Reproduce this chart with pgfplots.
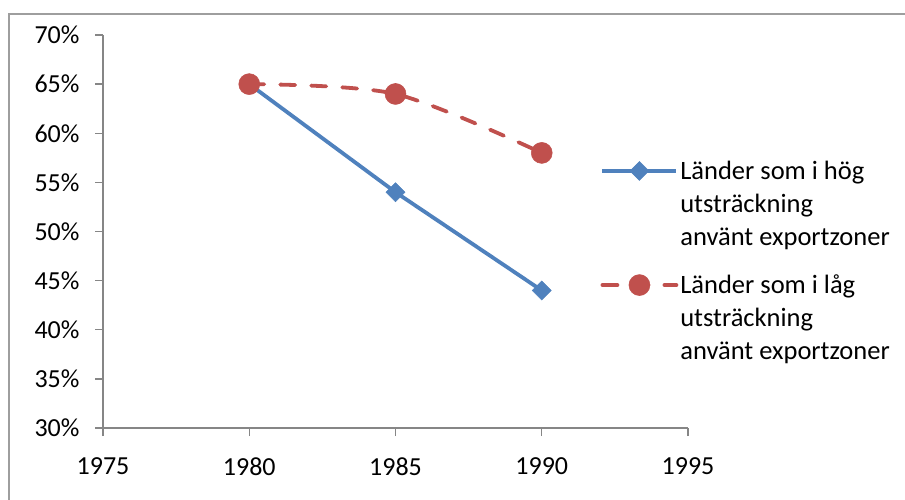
\documentclass[border=0pt]{standalone}
\usepackage{pgfplots}
\pgfplotsset{compat=1.18}
\usepackage{fontspec}
\setmainfont{Carlito}
\definecolor{sblue}{HTML}{4F81BD}
\definecolor{sred}{HTML}{C0504D}
\definecolor{axgray}{HTML}{868686}
\begin{document}
\begin{tikzpicture}[x=1pt,y=1pt]
\useasboundingbox (0,0) rectangle (905,499);
\draw[color=axgray!80,line width=1.5pt] (9,-10) -- (9,485) -- (920,485);
\begin{axis}[
  at={(103pt,71pt)}, anchor=south west,
  width=585pt, height=393pt, scale only axis,
  xmin=1975, xmax=1995, ymin=30, ymax=70,
  xtick={1975,1980,...,1995}, ytick={30,35,...,70},
  axis x line*=bottom, axis y line*=left,
  axis line style={color=axgray, line width=1.3pt},
  x axis line style={-}, y axis line style={-},
  tick style={color=axgray, line width=1.3pt},
  tick align=outside, major tick length=8pt,
  xticklabel style={/pgf/number format/1000 sep={}, font=\fontsize{26}{30}\selectfont, yshift=-18pt},
  yticklabel={\pgfmathprintnumber{\tick}\%},
  yticklabel style={font=\fontsize{26}{30}\selectfont, xshift=-12pt},
  /pgf/number format/assume math mode=true,
  clip=false,
  legend cell align=left,
  legend style={draw=none, fill=none, at={(0.845,0.69)}, anchor=north west,
    font=\fontsize{26.5}{33}\selectfont, row sep=24pt,
    nodes={align=left, inner sep=2pt}},
  legend image code/.code={\draw[#1, mark repeat=2, mark phase=2, yshift=33pt] plot coordinates {(0pt,0pt) (37pt,0pt) (74pt,0pt)};},
]
\addplot[color=sblue, line width=3.8pt, mark=square*, mark size=6.7pt,
  mark options={solid, fill=sblue, line width=0.5pt, rotate=45}] coordinates {(1980,65) (1985,54) (1990,44)};
\addlegendentry{Länder som i hög\\utsträckning\\använt exportzoner}
\addplot[color=sred, line width=3.8pt, smooth, dash pattern=on 15pt off 16pt, line cap=round,
  mark=*, mark size=10.5pt, mark options={solid, fill=sred, line width=0.5pt}] coordinates {(1980,65) (1985,64) (1990,58)};
\addlegendentry{Länder som i låg\\utsträckning\\använt exportzoner}
\end{axis}
\end{tikzpicture}
\end{document}
